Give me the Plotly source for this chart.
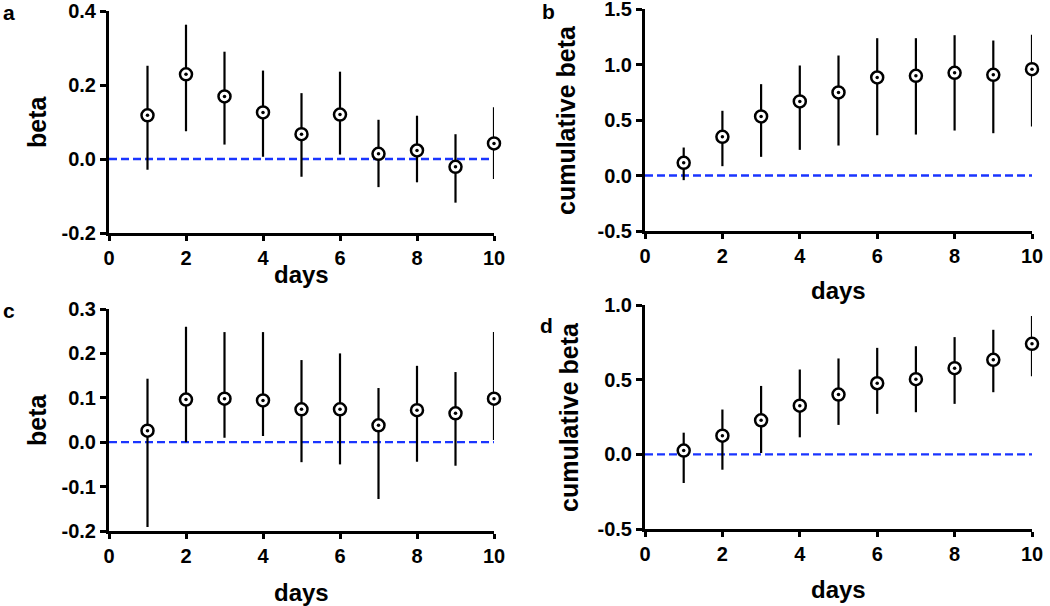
import plotly.graph_objects as go

W, H = 1050, 606

days = [1, 2, 3, 4, 5, 6, 7, 8, 9, 10]

# Panel a: beta
a_mean = [0.118, 0.229, 0.169, 0.126, 0.067, 0.120, 0.014, 0.023, -0.021, 0.042]
a_upper = [0.252, 0.363, 0.290, 0.239, 0.178, 0.236, 0.106, 0.117, 0.067, 0.140]
a_lower = [-0.029, 0.075, 0.039, 0.006, -0.048, 0.012, -0.076, -0.063, -0.118, -0.054]

# Panel b: cumulative beta
b_mean = [0.114, 0.348, 0.532, 0.667, 0.748, 0.883, 0.898, 0.925, 0.907, 0.958]
b_upper = [0.252, 0.583, 0.823, 0.991, 1.081, 1.237, 1.237, 1.264, 1.216, 1.267]
b_lower = [-0.042, 0.084, 0.168, 0.231, 0.270, 0.363, 0.369, 0.405, 0.381, 0.441]

# Panel c: beta
c_mean = [0.026, 0.096, 0.098, 0.094, 0.074, 0.074, 0.038, 0.072, 0.065, 0.098]
c_upper = [0.143, 0.260, 0.248, 0.248, 0.185, 0.200, 0.122, 0.172, 0.158, 0.248]
c_lower = [-0.191, 0.000, 0.010, 0.014, -0.045, -0.050, -0.128, -0.044, -0.053, 0.005]

# Panel d: cumulative beta
d_mean = [0.025, 0.125, 0.228, 0.326, 0.400, 0.476, 0.503, 0.577, 0.633, 0.740]
d_upper = [0.145, 0.300, 0.458, 0.568, 0.642, 0.713, 0.724, 0.785, 0.834, 0.926]
d_lower = [-0.192, -0.103, 0.009, 0.114, 0.197, 0.271, 0.282, 0.338, 0.416, 0.523]

x_ticks = [0, 2, 4, 6, 8, 10]
x_ticklabels = ["0", "2", "4", "6", "8", "10"]
a_yticks = [-0.2, 0.0, 0.2, 0.4]
a_yticklabels = ["-0.2", "0.0", "0.2", "0.4"]
b_yticks = [-0.5, 0.0, 0.5, 1.0, 1.5]
b_yticklabels = ["-0.5", "0.0", "0.5", "1.0", "1.5"]
c_yticks = [-0.2, -0.1, 0.0, 0.1, 0.2, 0.3]
c_yticklabels = ["-0.2", "-0.1", "0.0", "0.1", "0.2", "0.3"]
d_yticks = [-0.5, 0.0, 0.5, 1.0]
d_yticklabels = ["-0.5", "0.0", "0.5", "1.0"]

panels = [
    dict(letter="a", ytitle="beta", mean=a_mean, up=a_upper, lo=a_lower,
         yticks=a_yticks, ylabels=a_yticklabels, px=(109, 494), py=(11, 233),
         letter_xy=(9, 13), ytitle_x=37, xtitle_y=274),
    dict(letter="b", ytitle="cumulative beta", mean=b_mean, up=b_upper, lo=b_lower,
         yticks=b_yticks, ylabels=b_yticklabels, px=(645, 1032), py=(9, 231),
         letter_xy=(548, 11), ytitle_x=566, xtitle_y=290),
    dict(letter="c", ytitle="beta", mean=c_mean, up=c_upper, lo=c_lower,
         yticks=c_yticks, ylabels=c_yticklabels, px=(109, 494), py=(309, 531),
         letter_xy=(9, 310), ytitle_x=37, xtitle_y=592),
    dict(letter="d", ytitle="cumulative beta", mean=d_mean, up=d_upper, lo=d_lower,
         yticks=d_yticks, ylabels=d_yticklabels, px=(645, 1032), py=(305, 529),
         letter_xy=(546, 325), ytitle_x=569, xtitle_y=589),
]

FONT = "Liberation Sans, Arial, Helvetica, sans-serif"
TICKFONT = dict(family=FONT, size=20, color="black")
fig = go.Figure()
annotations = []


def bold(labels):
    return [f"<b>{t}</b>" for t in labels]


def fx(px):
    return px / W


def fy(py):
    return 1 - py / H


for i, p in enumerate(panels, start=1):
    xa = "x" if i == 1 else f"x{i}"
    ya = "y" if i == 1 else f"y{i}"
    xkey = "xaxis" if i == 1 else f"xaxis{i}"
    ykey = "yaxis" if i == 1 else f"yaxis{i}"
    yr = (min(p["yticks"]), max(p["yticks"]))

    # zero reference line
    fig.add_trace(go.Scatter(
        x=[0, 10], y=[0, 0], mode="lines", xaxis=xa, yaxis=ya,
        line=dict(color="#1a35ff", width=2.3, dash="8px,4px"),
        showlegend=False, hoverinfo="skip", cliponaxis=False))

    err_plus = [u - m for u, m in zip(p["up"], p["mean"])]
    err_minus = [m - l for m, l in zip(p["mean"], p["lo"])]
    fig.add_trace(go.Scatter(
        x=days, y=p["mean"], mode="markers", xaxis=xa, yaxis=ya, cliponaxis=False,
        marker=dict(symbol="circle", size=12, color="white",
                    line=dict(color="black", width=2.5)),
        error_y=dict(type="data", symmetric=False, array=err_plus,
                     arrayminus=err_minus, color="black", thickness=2.2, width=0),
        showlegend=False))
    fig.add_trace(go.Scatter(
        x=days, y=p["mean"], mode="markers", xaxis=xa, yaxis=ya, cliponaxis=False,
        marker=dict(symbol="circle", size=3.5, color="black"),
        showlegend=False, hoverinfo="skip"))

    x0, x1 = p["px"]
    yt, yb = p["py"]
    fig.update_layout(**{
        xkey: dict(domain=[fx(x0), fx(x1)], range=[0, 10], anchor=ya,
                   tickmode="array", tickvals=x_ticks, ticktext=bold(x_ticklabels),
                   ticks="outside", ticklen=5, tickwidth=3, automargin=False,
                   ticklabeloverflow="allow",
                   tickcolor="black", showline=True, linewidth=3, linecolor="black",
                   showgrid=False, zeroline=False, tickfont=TICKFONT),
        ykey: dict(domain=[fy(yb), fy(yt)], range=list(yr), anchor=xa,
                   tickmode="array", tickvals=p["yticks"], ticktext=bold(p["ylabels"]),
                   ticks="outside", ticklen=6, tickwidth=3, tickcolor="black",
                   ticklabeloverflow="allow",
                   showline=True, linewidth=3, linecolor="black", showgrid=False,
                   zeroline=False, tickfont=TICKFONT, automargin=False),
    })

    # panel letter
    lx, ly = p["letter_xy"]
    annotations.append(dict(text=f"<b>{p['letter']}</b>", x=fx(lx), y=fy(ly),
                            xref="paper", yref="paper", showarrow=False,
                            xanchor="center", yanchor="middle",
                            font=dict(family=FONT, size=21, color="black")))
    # y title
    annotations.append(dict(text=f"<b>{p['ytitle']}</b>", x=fx(p["ytitle_x"]),
                            y=fy((yt + yb) / 2), xref="paper", yref="paper",
                            showarrow=False, textangle=-90, xanchor="center", yanchor="middle",
                            font=dict(family=FONT, size=25, color="black")))
    # x title
    annotations.append(dict(text="<b>days</b>", x=fx((x0 + x1) / 2), y=fy(p["xtitle_y"]),
                            xref="paper", yref="paper", showarrow=False,
                            xanchor="center", yanchor="middle",
                            font=dict(family=FONT, size=24, color="black")))

fig.update_layout(width=W, height=H, margin=dict(l=0, r=0, t=0, b=0, autoexpand=False),
                  paper_bgcolor="white", plot_bgcolor="white",
                  annotations=annotations, showlegend=False)

fig.write_html("out.html", config={"displayModeBar": False},
               post_script="document.body.style.margin='0';document.body.style.overflow='hidden';")
